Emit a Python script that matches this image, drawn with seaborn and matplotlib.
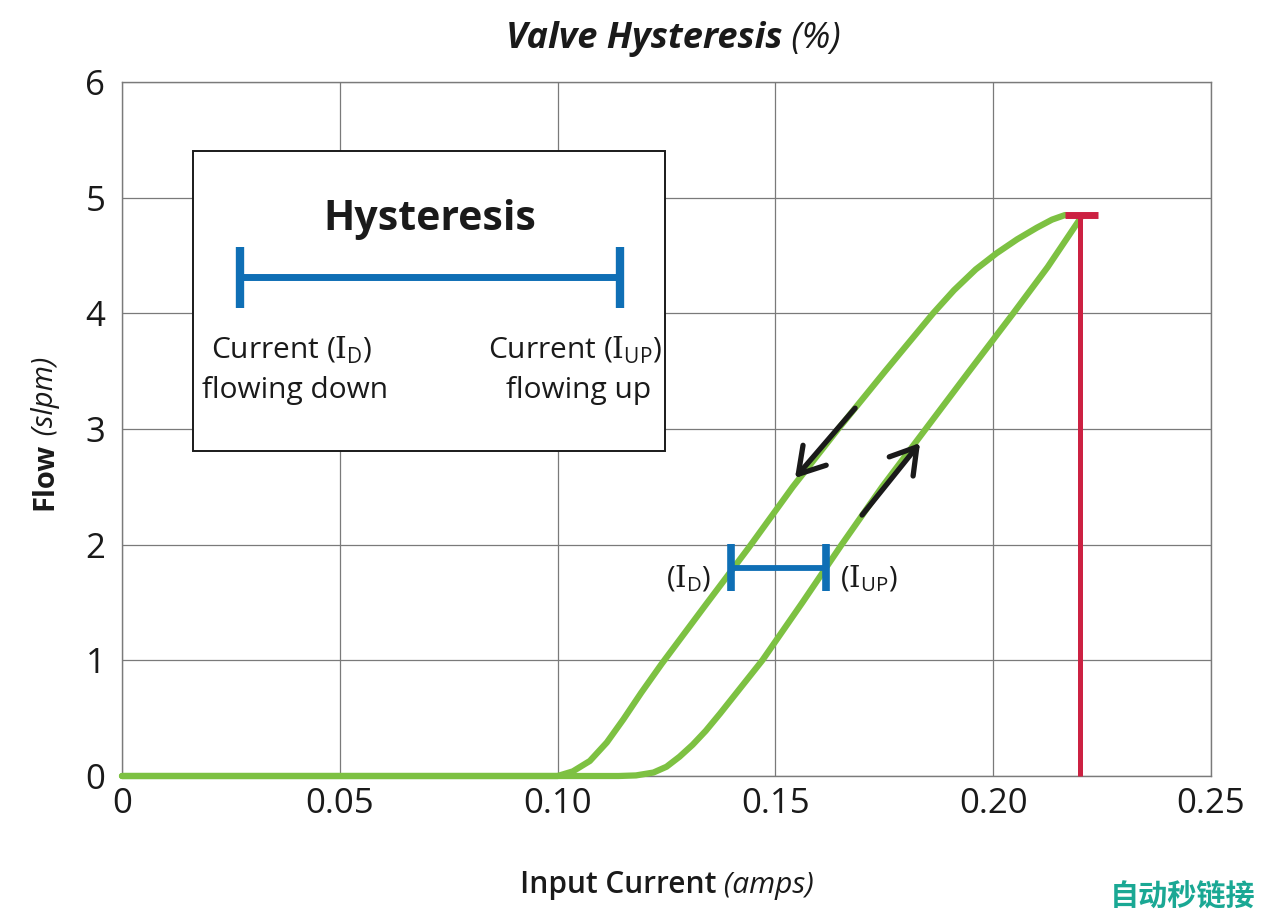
import matplotlib
matplotlib.use("Agg")
import matplotlib.pyplot as plt
from matplotlib import font_manager
from matplotlib.patches import Rectangle
import seaborn as sns
import pandas as pd

# Data

down_current = [0.0, 0.100, 0.1035, 0.1074, 0.1113, 0.1151, 0.1192, 0.1239, 0.1340, 0.1440,
                0.1540, 0.1644, 0.1752, 0.1862, 0.1910, 0.1960, 0.2008, 0.2055, 0.2100,
                0.2135, 0.2165]
down_flow = [0.0, 0.0, 0.04, 0.13, 0.29, 0.49, 0.72, 0.97, 1.48, 1.98,
             2.5, 3.0, 3.5, 4.0, 4.2, 4.38, 4.52, 4.64, 4.74,
             4.81, 4.85]

up_current = [0.0, 0.114, 0.118, 0.122, 0.125, 0.128, 0.131, 0.134, 0.1373, 0.1470,
              0.1562, 0.1652, 0.1745, 0.1845, 0.1945, 0.2046, 0.2125, 0.2200]
up_flow = [0.0, 0.0, 0.005, 0.03, 0.08, 0.167, 0.27, 0.39, 0.54, 1.0,
           1.5, 2.0, 2.5, 3.0, 3.5, 4.0, 4.4, 4.82]

x_ticks = [0, 0.05, 0.10, 0.15, 0.20, 0.25]
x_tick_labels = ["0", "0.05", "0.10", "0.15", "0.20", "0.25"]
y_ticks = [0, 1, 2, 3, 4, 5, 6]

max_current = 0.22
max_flow = 4.85
i_down = 0.1398
i_up = 0.1616
band_flow = 1.80

GREEN = "#7dc142"
BLUE = "#0f6fb5"
RED = "#cc2142"
GRID = "#7a7a7a"
INK = "#1a1a1a"

# Fonts

def pick_font(names):
    for n in names:
        try:
            font_manager.findfont(n, fallback_to_default=False)
            return n
        except Exception:
            pass
    return "DejaVu Sans"

regular = pick_font(["Open Sans", "Lato"])

sns.set_theme(style="white")
plt.rcParams["font.family"] = [regular, "DejaVu Sans"]
plt.rcParams["mathtext.fontset"] = "custom"
plt.rcParams["mathtext.rm"] = "DejaVu Serif"
plt.rcParams["mathtext.sf"] = regular

fig = plt.figure(figsize=(12.8, 9.17), dpi=100)
ax = fig.add_axes([122 / 1280, 1 - 776 / 917, (1211 - 122) / 1280, (776 - 82) / 917])

df_down = pd.DataFrame({"current": down_current, "flow": down_flow})
df_up = pd.DataFrame({"current": up_current, "flow": up_flow})

for d in (df_down, df_up):
    sns.lineplot(data=d, x="current", y="flow", sort=False, estimator=None, ax=ax,
                 color=GREEN, linewidth=4.5, solid_joinstyle="round",
                 solid_capstyle="round", clip_on=False, zorder=4)

# red max line
ax.plot([max_current, max_current], [0, max_flow], color=RED, lw=3.6, zorder=5,
        solid_capstyle="butt", clip_on=False)
ax.plot([max_current - 0.0035, max_current + 0.0040], [max_flow, max_flow], color=RED,
        lw=5, zorder=5, solid_capstyle="butt")

# small hysteresis band
ax.plot([i_down, i_up], [band_flow, band_flow], color=BLUE, lw=4.2, zorder=6,
        solid_capstyle="butt")
for xv in (i_down, i_up):
    ax.plot([xv, xv], [band_flow - 0.2, band_flow + 0.21], color=BLUE, lw=5.5, zorder=6,
            solid_capstyle="butt")

ax.text(0.1352, 1.63, r"($\mathrm{I}_{\mathsf{D}}$)", ha="right", va="baseline",
        fontsize=21, color=INK, zorder=7)
ax.text(0.1648, 1.63, r"($\mathrm{I}_{\mathsf{UP}}$)", ha="left", va="baseline",
        fontsize=21, color=INK, zorder=7)

# direction arrows
arrow_style = dict(arrowstyle="->,head_length=0.9,head_width=0.55", color=INK, lw=3.8,
                   mutation_scale=20, shrinkA=0, shrinkB=0)
ax.annotate("", xy=(0.1545, 2.576), xytext=(0.1683, 3.18), arrowprops=arrow_style, zorder=7)
ax.annotate("", xy=(0.1832, 2.879), xytext=(0.1699, 2.256), arrowprops=arrow_style, zorder=7)

# legend box
box = Rectangle((0.0163, 2.81), 0.12466 - 0.0163, 5.403 - 2.81, facecolor="white",
                edgecolor=INK, lw=1.4, zorder=8)
ax.add_patch(box)
ax.text(0.0707, 4.72, "Hysteresis", ha="center", va="baseline", fontsize=29.5,
        fontweight="bold", color=INK, zorder=9)
ax.plot([0.0271, 0.1143], [4.314, 4.314], color=BLUE, lw=5, zorder=9, solid_capstyle="butt")
for xv in (0.0271, 0.1143):
    ax.plot([xv, xv], [4.05, 4.57], color=BLUE, lw=6, zorder=9, solid_capstyle="butt")
ax.text(0.0390, 3.61, r"Current ($\mathrm{I}_{\mathsf{D}}$)", ha="center", va="baseline",
        fontsize=21.5, color=INK, zorder=9)
ax.text(0.0397, 3.27, "flowing down", ha="center", va="baseline",
        fontsize=21.5, color=INK, zorder=9)
ax.text(0.1040, 3.61, r"Current ($\mathrm{I}_{\mathsf{UP}}$)", ha="center", va="baseline",
        fontsize=21.5, color=INK, zorder=9)
ax.text(0.1047, 3.27, "flowing up", ha="center", va="baseline",
        fontsize=21.5, color=INK, zorder=9)

# axes styling
ax.set_xlim(0, 0.25)
ax.set_ylim(0, 6)
ax.set_xticks(x_ticks)
ax.set_xticklabels(x_tick_labels)
ax.set_yticks(y_ticks)
ax.grid(True, color=GRID, lw=0.9)
ax.set_axisbelow(True)
for s in ax.spines.values():
    s.set_color(GRID)
    s.set_linewidth(1.0)
ax.tick_params(axis="both", length=0, labelsize=25, colors=INK)
ax.tick_params(axis="x", pad=8)
ax.tick_params(axis="y", pad=12)
ax.set_xlabel("")
ax.set_ylabel("")

# title and axis labels with mixed styles
t1 = fig.text(782 / 1280, 1 - 48 / 917, "Valve Hysteresis", ha="right", va="baseline",
              fontsize=26, fontweight="bold", style="italic", color=INK)
ax.annotate(" (%)", xy=(1, 0), xycoords=t1, ha="left", va="bottom",
            fontsize=26, style="italic", color=INK, annotation_clip=False)

t2 = fig.text(716 / 1280, 1 - 893 / 917, "Input Current", ha="right", va="baseline",
              fontsize=21.5, fontweight="semibold", color=INK)
ax.annotate(" (amps)", xy=(1, 0), xycoords=t2, ha="left", va="bottom",
            fontsize=21.5, style="italic", color=INK, annotation_clip=False)

t3 = fig.text(45 / 1280, 1 - 510 / 917, "Flow", rotation=90, ha="center", va="bottom",
              fontsize=21, fontweight="bold", color=INK)
ax.annotate(" (slpm)", xy=(0.5, 1), xycoords=t3, rotation=90, ha="center", va="bottom",
            fontsize=21, style="italic", color=INK, annotation_clip=False)

# watermark
fig.text(1255 / 1280, 1 - 905 / 917, "自动秒链接", ha="right", va="baseline", fontsize=21,
         fontweight="bold", color="#1aa894", family=["Noto Sans CJK SC", "DejaVu Sans"])

fig.savefig("out.png", dpi=100)
